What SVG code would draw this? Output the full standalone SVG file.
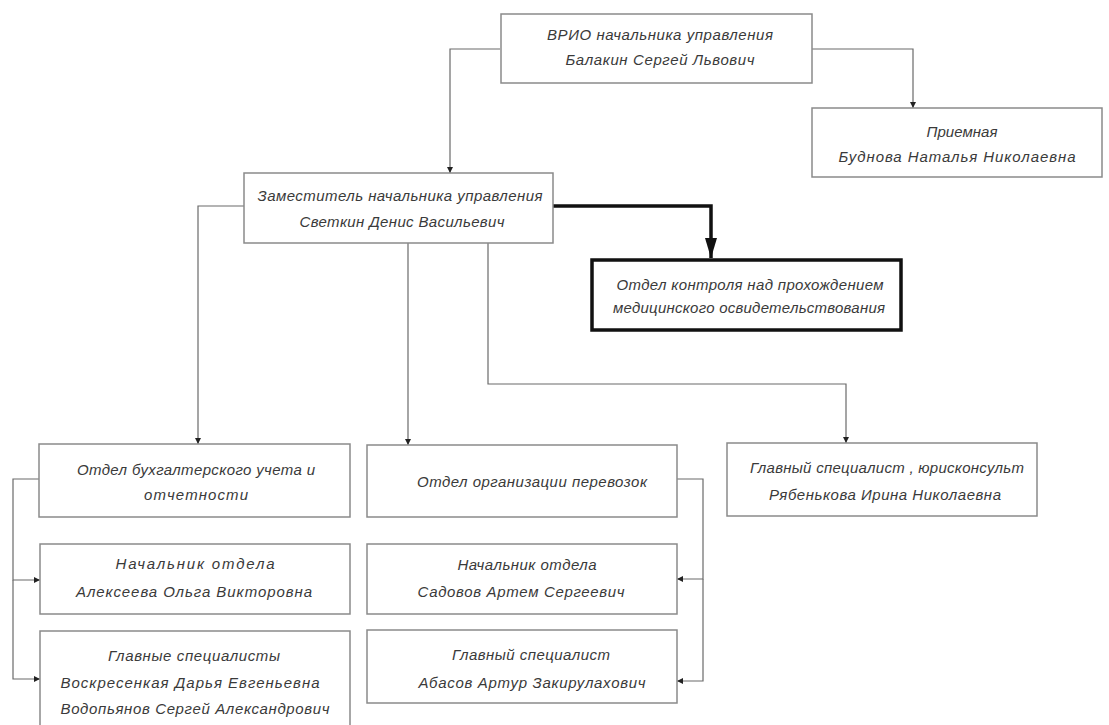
<svg xmlns="http://www.w3.org/2000/svg" width="1109" height="725" viewBox="0 0 1109 725">
<style>
.box{fill:#fff;stroke:#8a8a8a;stroke-width:1.5}
.bold{fill:#fff;stroke:#111;stroke-width:3.5}
.t{font-family:"Liberation Sans",Arial,sans-serif;font-style:italic;font-size:15px;fill:#3a3a3a;text-anchor:middle}
.c{fill:none;stroke:#6a6a6a;stroke-width:1.2}
.cb{fill:none;stroke:#111;stroke-width:3.5}
</style>
<defs>
<marker id="a" viewBox="0 0 6 12" refX="6" refY="6" markerWidth="6" markerHeight="12" markerUnits="userSpaceOnUse" orient="auto">
<path d="M0,3 L6,6 L0,9 Z" fill="#222"/>
</marker>
<marker id="ab" viewBox="0 0 20 14" refX="20" refY="7" markerWidth="20" markerHeight="14" markerUnits="userSpaceOnUse" orient="auto">
<path d="M0,1 L20,7 L0,13 Z" fill="#111"/>
</marker>
</defs>
<rect width="1109" height="725" fill="#fff"/>
<g id="connectors">
<path class="c" d="M500,49 H450 V173" marker-end="url(#a)"/>
<path class="c" d="M812,49 H913 V108" marker-end="url(#a)"/>
<path class="c" d="M244,206 H198 V444" marker-end="url(#a)"/>
<path class="c" d="M408,243 V445" marker-end="url(#a)"/>
<path class="c" d="M488,243 V384 H846 V443" marker-end="url(#a)"/>
<path class="cb" d="M553,206 H711 V258" marker-end="url(#ab)"/>
<path class="c" d="M39,479 H13 V580 H40" marker-end="url(#a)"/>
<path class="c" d="M13,580 V679 H40" marker-end="url(#a)"/>
<path class="c" d="M677,479 H703 V579 H677" marker-end="url(#a)"/>
<path class="c" d="M703,579 V681 H677" marker-end="url(#a)"/>
</g>
<g id="n-head">
<rect class="box" x="501" y="14" width="311" height="69"/>
<text class="t" x="660" y="40" textLength="226" lengthAdjust="spacing">ВРИО начальника управления</text>
<text class="t" x="660" y="65" textLength="189" lengthAdjust="spacing">Балакин Сергей Львович</text>
</g>
<g id="n-reception">
<rect class="box" x="812" y="108" width="290" height="69"/>
<text class="t" x="962" y="137" textLength="71" lengthAdjust="spacing">Приемная</text>
<text class="t" x="957" y="162" textLength="237" lengthAdjust="spacing">Буднова Наталья Николаевна</text>
</g>
<g id="n-deputy">
<rect class="box" x="244" y="173" width="309" height="70"/>
<text class="t" x="400" y="201" textLength="285" lengthAdjust="spacing">Заместитель начальника управления</text>
<text class="t" x="402" y="227" textLength="205" lengthAdjust="spacing">Светкин Денис Васильевич</text>
</g>
<g id="n-medical">
<rect class="bold" x="592" y="260" width="309" height="70"/>
<text class="t" x="750" y="290" textLength="267" lengthAdjust="spacing">Отдел контроля над прохождением</text>
<text class="t" x="749" y="313" textLength="272" lengthAdjust="spacing">медицинского освидетельствования</text>
</g>
<g id="n-accounting">
<rect class="box" x="39" y="444" width="311" height="73"/>
<text class="t" x="196" y="475" textLength="238" lengthAdjust="spacing">Отдел бухгалтерского учета и</text>
<text class="t" x="196" y="500" textLength="104" lengthAdjust="spacing">отчетности</text>
</g>
<g id="n-transport">
<rect class="box" x="367" y="445" width="310" height="72"/>
<text class="t" x="532" y="487" textLength="230" lengthAdjust="spacing">Отдел организации перевозок</text>
</g>
<g id="n-legal">
<rect class="box" x="727" y="443" width="310" height="73"/>
<text class="t" x="887" y="473" textLength="274" lengthAdjust="spacing">Главный специалист , юрисконсульт</text>
<text class="t" x="885" y="500" textLength="232" lengthAdjust="spacing">Рябенькова Ирина Николаевна</text>
</g>
<g id="n-acc-head">
<rect class="box" x="40" y="544" width="310" height="70"/>
<text class="t" x="195" y="569" textLength="159" lengthAdjust="spacing">Начальник отдела</text>
<text class="t" x="194" y="597" textLength="236" lengthAdjust="spacing">Алексеева Ольга Викторовна</text>
</g>
<g id="n-acc-spec">
<rect class="box" x="40" y="631" width="310" height="110"/>
<text class="t" x="194" y="661" textLength="172" lengthAdjust="spacing">Главные специалисты</text>
<text class="t" x="190" y="688" textLength="259" lengthAdjust="spacing">Воскресенкая Дарья Евгеньевна</text>
<text class="t" x="195" y="714" textLength="269" lengthAdjust="spacing">Водопьянов Сергей Александрович</text>
</g>
<g id="n-tr-head">
<rect class="box" x="367" y="544" width="310" height="70"/>
<text class="t" x="527" y="570" textLength="139" lengthAdjust="spacing">Начальник отдела</text>
<text class="t" x="521" y="597" textLength="207" lengthAdjust="spacing">Садовов Артем Сергеевич</text>
</g>
<g id="n-tr-spec">
<rect class="box" x="367" y="630" width="310" height="73"/>
<text class="t" x="531" y="660" textLength="158" lengthAdjust="spacing">Главный специалист</text>
<text class="t" x="532" y="688" textLength="227" lengthAdjust="spacing">Абасов Артур Закирулахович</text>
</g>
</svg>
